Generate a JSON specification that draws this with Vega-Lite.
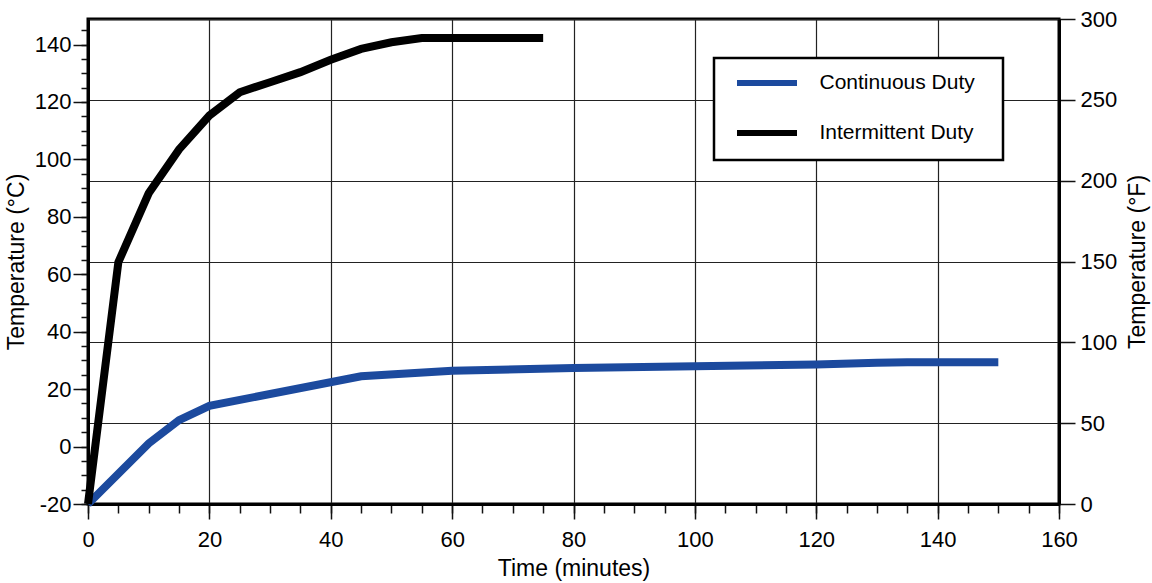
{
  "$schema": "https://vega.github.io/schema/vega-lite/v6.json",
  "width": 971,
  "height": 485,
  "autosize": "none",
  "padding": {"left": 88, "top": 19, "right": 93, "bottom": 79},
  "background": "white",
  "config": {
    "font": "Liberation Sans",
    "view": {"stroke": "black", "strokeWidth": 3},
    "axis": {
      "labelFont": "Liberation Sans",
      "titleFont": "Liberation Sans",
      "labelFontSize": 22,
      "titleFontSize": 23,
      "titleFontWeight": "normal",
      "labelColor": "black",
      "titleColor": "black",
      "tickColor": "#111",
      "tickWidth": 1.5,
      "domainColor": "black",
      "domainWidth": 3,
      "gridColor": "#222",
      "gridOpacity": 1,
      "gridWidth": 1.2,
      "labelFlush": false,
      "labelExpr": "'' + datum.value"
    },
    "legend": {
      "labelFont": "Liberation Sans",
      "labelFontSize": 21,
      "labelColor": "black"
    }
  },
  "datasets": {
    "temps": [
      {"series": "Continuous Duty", "t": 0, "c": -20},
      {"series": "Continuous Duty", "t": 10, "c": 1.1},
      {"series": "Continuous Duty", "t": 15, "c": 9.2},
      {"series": "Continuous Duty", "t": 20, "c": 14.2},
      {"series": "Continuous Duty", "t": 45, "c": 24.5},
      {"series": "Continuous Duty", "t": 60, "c": 26.4},
      {"series": "Continuous Duty", "t": 80, "c": 27.4},
      {"series": "Continuous Duty", "t": 100, "c": 28.0},
      {"series": "Continuous Duty", "t": 120, "c": 28.6},
      {"series": "Continuous Duty", "t": 130, "c": 29.2},
      {"series": "Continuous Duty", "t": 135, "c": 29.4},
      {"series": "Continuous Duty", "t": 150, "c": 29.4},
      {"series": "Intermittent Duty", "t": 0, "c": -20},
      {"series": "Intermittent Duty", "t": 5, "c": 64.2},
      {"series": "Intermittent Duty", "t": 10, "c": 88.2},
      {"series": "Intermittent Duty", "t": 15, "c": 103.5},
      {"series": "Intermittent Duty", "t": 20, "c": 115.3},
      {"series": "Intermittent Duty", "t": 25, "c": 123.4},
      {"series": "Intermittent Duty", "t": 30, "c": 126.9},
      {"series": "Intermittent Duty", "t": 35, "c": 130.4},
      {"series": "Intermittent Duty", "t": 40, "c": 134.7},
      {"series": "Intermittent Duty", "t": 45, "c": 138.5},
      {"series": "Intermittent Duty", "t": 50, "c": 140.8},
      {"series": "Intermittent Duty", "t": 55, "c": 142.3},
      {"series": "Intermittent Duty", "t": 75, "c": 142.3}
    ],
    "fahrenheit": [
      {"f": 0},
      {"f": 300}
    ]
  },
  "layer": [
    {
      "data": {"name": "fahrenheit"},
      "mark": {"type": "point", "opacity": 0},
      "encoding": {
        "y": {
          "field": "f",
          "type": "quantitative",
          "scale": {"domain": [0, 300], "nice": false, "zero": false},
          "axis": {
            "orient": "right",
            "values": [0, 50, 100, 150, 200, 250, 300],
            "grid": true,
            "tickSize": 16,
            "labelPadding": 5,
            "title": "Temperature (°F)",
            "titleAngle": 270,
            "titlePadding": 33
          }
        }
      }
    },
    {
      "data": {"name": "temps"},
      "mark": {"type": "point", "opacity": 0},
      "encoding": {
        "x": {
          "field": "t",
          "type": "quantitative",
          "scale": {"domain": [0, 160], "nice": false, "zero": false},
          "axis": {
            "orient": "bottom",
            "values": [0, 5, 10, 15, 20, 25, 30, 35, 40, 45, 50, 55, 60, 65, 70, 75, 80, 85, 90, 95, 100, 105, 110, 115, 120, 125, 130, 135, 140, 145, 150, 155, 160],
            "labels": false,
            "domain": false,
            "grid": false,
            "tickSize": 9,
            "title": null
          }
        },
        "y": {
          "field": "c",
          "type": "quantitative",
          "scale": {"domain": [-20, 148.9], "nice": false, "zero": false},
          "axis": {
            "orient": "left",
            "values": [-20, -15, -10, -5, 0, 5, 10, 15, 20, 25, 30, 35, 40, 45, 50, 55, 60, 65, 70, 75, 80, 85, 90, 95, 100, 105, 110, 115, 120, 125, 130, 135, 140, 145],
            "labels": false,
            "domain": false,
            "grid": false,
            "tickSize": 7,
            "title": null
          }
        }
      }
    },
    {
      "data": {"name": "temps"},
      "mark": {"type": "line", "strokeWidth": 8, "strokeCap": "butt", "strokeJoin": "miter"},
      "encoding": {
        "x": {
          "field": "t",
          "type": "quantitative",
          "scale": {"domain": [0, 160], "nice": false, "zero": false},
          "axis": {
            "orient": "bottom",
            "values": [0, 20, 40, 60, 80, 100, 120, 140, 160],
            "grid": true,
            "tickSize": 15,
            "labelPadding": 10,
            "title": "Time (minutes)",
            "titlePadding": 7
          }
        },
        "y": {
          "field": "c",
          "type": "quantitative",
          "scale": {"domain": [-20, 148.9], "nice": false, "zero": false},
          "axis": {
            "orient": "left",
            "values": [-20, 0, 20, 40, 60, 80, 100, 120, 140],
            "grid": false,
            "tickSize": 15,
            "labelPadding": 2,
            "title": "Temperature (°C)",
            "titlePadding": 6
          }
        },
        "color": {
          "field": "series",
          "type": "nominal",
          "scale": {"domain": ["Continuous Duty", "Intermittent Duty"], "range": ["#1c4a9e", "#000000"]},
          "legend": {
            "title": null,
            "orient": "none",
            "legendX": 626,
            "legendY": 39,
            "padding": 14.5,
            "strokeColor": "black",
            "fillColor": "white",
            "symbolType": "M-4.2857,0L4.2857,0M29.8,0",
            "symbolSize": 196,
            "symbolStrokeWidth": 6,
            "symbolOffset": 28,
            "labelOffset": 42,
            "rowPadding": 25,
            "encode": {
              "legend": {"update": {"stroke": {"value": "black"}, "strokeWidth": {"value": 2.5}}}
            }
          }
        }
      }
    }
  ],
  "resolve": {
    "scale": {"x": "independent", "y": "independent"},
    "axis": {"x": "independent", "y": "independent"}
  }
}
